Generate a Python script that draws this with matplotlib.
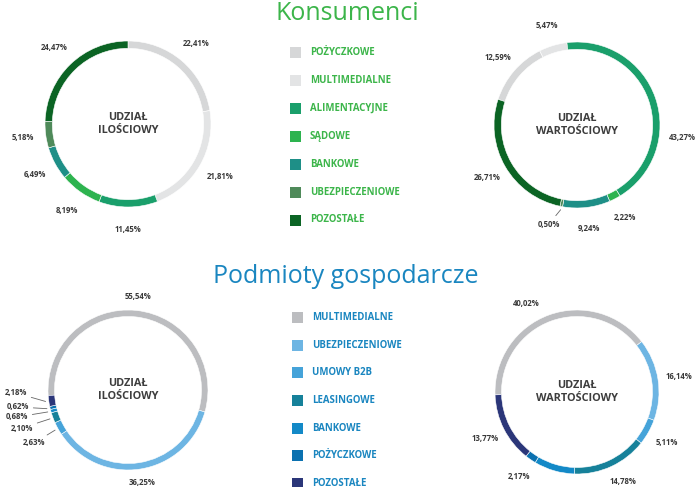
import matplotlib
matplotlib.use('Agg')
import matplotlib.pyplot as plt
import numpy as np
from matplotlib.patches import Rectangle

plt.rcParams['font.family'] = ['Open Sans', 'DejaVu Sans']

W, H = 699, 487

# ---------------- data ----------------
cons_categories = ['POŻYCZKOWE', 'MULTIMEDIALNE', 'ALIMENTACYJNE', 'SĄDOWE',
                   'BANKOWE', 'UBEZPIECZENIOWE', 'POZOSTAŁE']
cons_qty = [22.41, 21.81, 11.45, 8.19, 6.49, 5.18, 24.47]
cons_val = [12.59, 5.47, 43.27, 2.22, 9.24, 0.50, 26.71]
cons_colors = ['#d6d7d8', '#e3e4e5', '#1a9f6b', '#2db34f', '#1e8f87', '#4f8a5a', '#0b6424']

biz_categories = ['MULTIMEDIALNE', 'UBEZPIECZENIOWE', 'UMOWY B2B', 'LEASINGOWE',
                  'BANKOWE', 'POŻYCZKOWE', 'POZOSTAŁE']
biz_qty = [55.54, 36.25, 2.63, 2.10, 0.68, 0.62, 2.18]
biz_val = [40.02, 16.14, 5.11, 14.78, 8.01, 2.17, 13.77]
biz_colors = ['#bcbdc0', '#6db5e3', '#45a3d9', '#16819a', '#1389c7', '#0b71b0', '#2b3679']

title_cons = 'Konsumenci'
title_biz = 'Podmioty gospodarcze'
center_qty = 'UDZIAŁ\nILOŚCIOWY'
center_val = 'UDZIAŁ\nWARTOŚCIOWY'

GREEN = '#3cb54a'
BLUE = '#1a86c0'
LABEL_COLOR = '#3a3a3a'

fig = plt.figure(figsize=(W / 100, H / 100), dpi=100)
ax = fig.add_axes([0, 0, 1, 1])


def fmt(v):
    return f"{v:.2f}".replace('.', ',') + '%'


def donut(values, colors, cx, cy, r, ring, theta0, label_dist, center_text,
          angle_override=None, manual=None):
    angle_override = angle_override or {}
    manual = manual or {}
    wedges, _ = ax.pie(values, colors=colors, center=(cx, H - cy), radius=r,
                       startangle=90 - theta0, counterclock=False,
                       wedgeprops=dict(width=ring, edgecolor='white', linewidth=0.4))
    for i, (w, v) in enumerate(zip(wedges, values)):
        mid = (w.theta1 + w.theta2) / 2
        if i in manual:
            tx, ty = manual[i]
            m = np.deg2rad(mid)
            ax.annotate(fmt(v), xy=(cx + r * 1.04 * np.cos(m), H - cy + r * 1.04 * np.sin(m)),
                        xytext=(tx, H - ty), ha='center', va='center',
                        fontsize=5.6, fontweight='bold', color=LABEL_COLOR,
                        arrowprops=dict(arrowstyle='-', color='#666666', lw=0.6,
                                        shrinkA=1, shrinkB=0))
            continue
        ov = angle_override.get(i)
        if ov is not None:
            a, d = np.deg2rad(ov[0]), ov[1]
        else:
            a, d = np.deg2rad(mid), label_dist
        ax.text(cx + d * np.cos(a), H - cy + d * np.sin(a), fmt(v),
                ha='center', va='center', fontsize=5.6, fontweight='bold',
                color=LABEL_COLOR)
    ax.text(cx, H - cy, center_text, ha='center', va='center', fontsize=7.8,
            fontweight='bold', color='#3d3d3d', linespacing=1.35)


# top row
donut(cons_qty, cons_colors, 128, 124, 83, 7.3, 0, 106, center_qty)
donut(cons_val, cons_colors, 577, 125, 83, 7.3, -72, 104, center_val,
      angle_override={2: (-7, 106)},
      manual={5: (549, 224)})

# bottom row
donut(biz_qty, biz_colors, 128, 390, 80, 6.5, -94, 94, center_qty,
      manual={2: (34, 443), 3: (22, 428), 4: (17, 417), 5: (18, 407), 6: (16, 393)})
donut(biz_val, biz_colors, 577, 392, 82, 6.5, -92, 103, center_val,
      angle_override={0: (119.6, 102), 3: (-63, 101)})

# titles
ax.text(347, H - 20.5, title_cons, ha='center', va='baseline', fontsize=18,
        color=GREEN)
ax.text(346, H - 283, title_biz, ha='center', va='baseline', fontsize=18,
        color=BLUE)

# legends
for i, (lab, col) in enumerate(zip(cons_categories, cons_colors)):
    y = 52.3 + i * 27.95
    ax.add_patch(Rectangle((290, H - y - 5.5), 11, 11, facecolor=col, edgecolor='none'))
    ax.text(310, H - y, lab, ha='left', va='center', fontsize=6.9,
            fontweight='bold', color=GREEN)

for i, (lab, col) in enumerate(zip(biz_categories, biz_colors)):
    y = 317.3 + i * 27.7
    ax.add_patch(Rectangle((292, H - y - 5.5), 11, 11, facecolor=col, edgecolor='none'))
    ax.text(312, H - y, lab, ha='left', va='center', fontsize=6.9,
            fontweight='bold', color=BLUE)

ax.set_xlim(0, W)
ax.set_ylim(0, H)
ax.set_aspect('auto')
ax.axis('off')

fig.savefig('out.png', dpi=100, facecolor='white')
